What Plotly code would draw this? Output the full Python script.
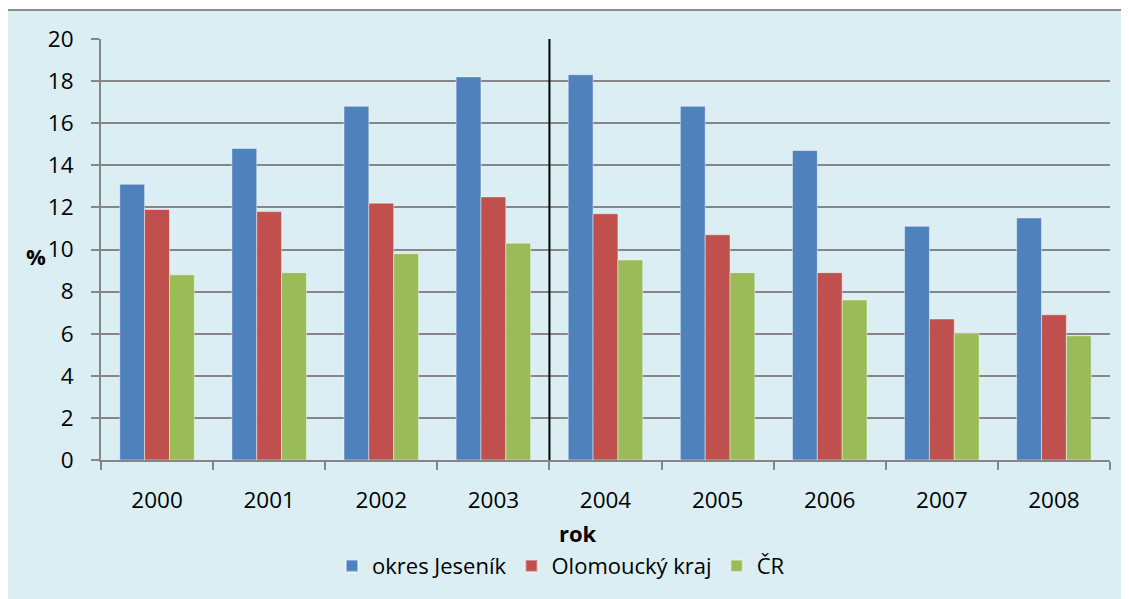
import plotly.graph_objects as go

years = ["2000", "2001", "2002", "2003", "2004", "2005", "2006", "2007", "2008"]
jesenik = [13.1, 14.8, 16.8, 18.2, 18.3, 16.8, 14.7, 11.1, 11.5]
olomoucky = [11.9, 11.8, 12.2, 12.5, 11.7, 10.7, 8.9, 6.7, 6.9]
cr = [8.8, 8.9, 9.8, 10.3, 9.5, 8.9, 7.6, 6.0, 5.9]
series_names = ["okres Jeseník", "Olomoucký kraj", "ČR"]
colors = ["#4F81BD", "#C0504D", "#9BBB59"]

# page has an 8px body margin; figure is placed at (8, 8)
OFF = 8
W, H = 1129 - OFF, 599 - OFF
L, R, T, B = 101 - OFF, 19, 39 - OFF, 139
pw, ph = W - L - R, H - T - B

def px_x(p):
    return (p - OFF - L) / pw

def px_y(p):
    return (H - B - (p - OFF)) / ph

FONT = "Open Sans"

fig = go.Figure()
for name, vals, col in zip(series_names, [jesenik, olomoucky, cr], colors):
    fig.add_trace(go.Bar(
        x=years, y=vals, name=name,
        marker=dict(color=col, line=dict(color="rgba(255,255,255,0.45)", width=1)),
    ))

fig.update_layout(
    width=W, height=H,
    margin=dict(l=L, r=R, t=T, b=B),
    paper_bgcolor="white",
    plot_bgcolor="#FDEADA",
    barmode="group",
    bargap=0.335,
    bargroupgap=0,
    font=dict(family=FONT, size=22, color="black"),
    showlegend=True,
    legend=dict(
        orientation="h", x=px_x(561), xanchor="center", y=px_y(566), yanchor="middle",
        font=dict(family=FONT, size=22), bgcolor="rgba(0,0,0,0)",
        itemsizing="constant",
    ),
    xaxis=dict(
        type="category",
        showline=True, linecolor="#868686", linewidth=2,
        ticks="outside", tickson="boundaries", ticklen=8, tickcolor="#868686", tickwidth=2,
        showgrid=False,
        tickfont=dict(family=FONT, size=22.5),
        ticklabelstandoff=19,
    ),
    yaxis=dict(
        range=[0, 20], dtick=2, tick0=0,
        showline=True, linecolor="#868686", linewidth=2,
        ticks="outside", ticklen=8, tickcolor="#868686", tickwidth=2,
        showgrid=True, gridcolor="#868686", gridwidth=1.5,
        zeroline=False,
        tickfont=dict(family=FONT, size=22.5),
        ticklabelstandoff=13,
    ),
    shapes=[
        dict(type="rect", xref="paper", yref="paper",
             x0=px_x(7), x1=px_x(1200), y0=px_y(700), y1=px_y(10),
             fillcolor="#DAEEF3", line=dict(color="#8C8C8C", width=2), layer="below"),
        dict(type="line", xref="x", yref="y", x0=3.5, x1=3.5, y0=0, y1=20,
             line=dict(color="black", width=2)),
    ],
    annotations=[
        dict(text="<b>%</b>", xref="paper", yref="paper", x=px_x(36), y=px_y(256),
             xanchor="center", yanchor="middle",
             showarrow=False, font=dict(family=FONT, size=22)),
        dict(text="<b>rok</b>", xref="paper", yref="paper", x=px_x(578), y=px_y(533),
             xanchor="center", yanchor="middle",
             showarrow=False, font=dict(family=FONT, size=22)),
    ],
)

fig.write_html("out.html")
